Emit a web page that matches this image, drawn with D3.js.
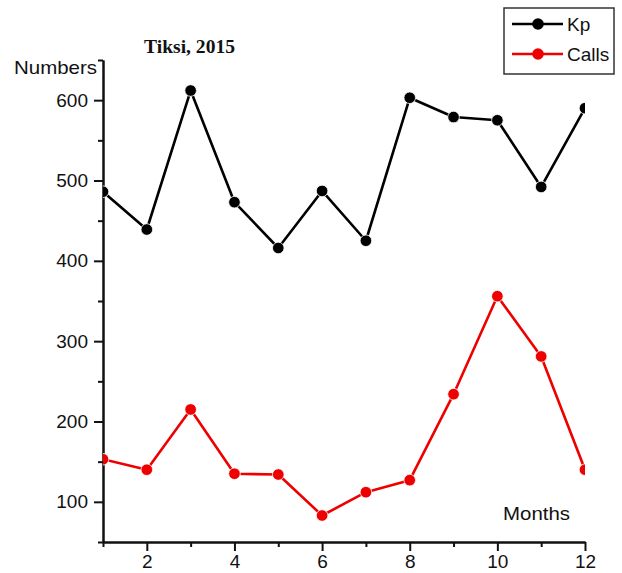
<!DOCTYPE html>
<html>
<head>
<meta charset="utf-8">
<script src="https://cdn.jsdelivr.net/npm/d3@7"></script>
<style>
  html, body { margin: 0; padding: 0; background: #fff; }
  svg { display: block; }
  text { font-family: "Liberation Sans", Arial, sans-serif; fill: #111; }
</style>
</head>
<body>
<svg id="chart" width="622" height="573"></svg>
<script>
const months = [1, 2, 3, 4, 5, 6, 7, 8, 9, 10, 11, 12];
const kpValues = [486, 439, 612, 473, 416, 487, 425, 603, 579, 575, 492, 590];
const callsValues = [153, 140, 215, 135, 134, 83, 112, 127, 234, 356, 281, 140];
const seriesNames = ["Kp", "Calls"];
const seriesColors = ["#000000", "#ee0000"];
const yMajorTicks = [100, 200, 300, 400, 500, 600];
const yMinorTicks = [50, 150, 250, 350, 450, 550, 650];
const xMajorTicks = [2, 4, 6, 8, 10, 12];
const xMinorTicks = [1, 3, 5, 7, 9, 11];
const titleText = "Tiksi, 2015";
const yTitle = "Numbers";
const xTitle = "Months";

(function () {
const svg = d3.select("#chart");
const mLeft = 103, mRight = 585, mTop = 60, mBottom = 542;

const x = d3.scaleLinear().domain([1, 12]).range([mLeft, mRight]);
const y = d3.scaleLinear().domain([50, 650]).range([mBottom, mTop]);

svg.append("defs").append("clipPath").attr("id", "plotclip")
  .append("rect").attr("x", mLeft).attr("y", mTop - 10)
  .attr("width", mRight - mLeft).attr("height", mBottom - mTop + 10);

const yAxisMajor = d3.axisLeft(y).tickValues(yMajorTicks).tickSize(9).tickPadding(6).tickSizeOuter(0);
const yAxisMinor = d3.axisLeft(y).tickValues(yMinorTicks).tickSize(5).tickFormat("").tickSizeOuter(0);
const xAxisMajor = d3.axisBottom(x).tickValues(xMajorTicks).tickSize(9).tickPadding(4).tickSizeOuter(0);
const xAxisMinor = d3.axisBottom(x).tickValues(xMinorTicks).tickSize(5).tickFormat("").tickSizeOuter(0);

function styleAxis(g) {
  g.select(".domain").attr("stroke", "#111").attr("stroke-width", 2);
  g.selectAll(".tick line").attr("stroke", "#111").attr("stroke-width", 2);
  g.selectAll(".tick text").attr("font-size", 19).attr("fill", "#111")
    .attr("font-family", "'Liberation Sans', Arial, sans-serif");
}

svg.append("g").attr("transform", `translate(${mLeft},0)`).call(yAxisMinor).call(styleAxis);
svg.append("g").attr("transform", `translate(${mLeft},0)`).call(yAxisMajor).call(styleAxis);
svg.append("g").attr("transform", `translate(0,${mBottom})`).call(xAxisMinor).call(styleAxis);
svg.append("g").attr("transform", `translate(0,${mBottom})`).call(xAxisMajor).call(styleAxis);

const series = [kpValues, callsValues];
const line = d3.line().x((d, i) => x(months[i])).y(d => y(d));
const plot = svg.append("g").attr("clip-path", "url(#plotclip)");

series.forEach((vals, si) => {
  plot.append("path").datum(vals)
    .attr("fill", "none").attr("stroke", seriesColors[si])
    .attr("stroke-width", 2.6).attr("stroke-linejoin", "round")
    .attr("d", line);
  plot.selectAll(".pt" + si).data(vals).enter().append("circle")
    .attr("cx", (d, i) => x(months[i])).attr("cy", d => y(d))
    .attr("r", 5.8).attr("fill", seriesColors[si])
    .attr("stroke", "#fff").attr("stroke-width", 0.8);
});

svg.append("text").attr("x", 144).attr("y", 53)
  .style("font-family", "'Liberation Serif', 'DejaVu Serif', serif")
  .attr("font-weight", "bold").attr("font-size", 18)
  .attr("textLength", 91).attr("lengthAdjust", "spacingAndGlyphs")
  .text(titleText);

svg.append("text").attr("x", 14).attr("y", 74).attr("font-size", 19)
  .attr("textLength", 83).attr("lengthAdjust", "spacingAndGlyphs")
  .text(yTitle);

svg.append("text").attr("x", 503).attr("y", 520).attr("font-size", 19)
  .attr("textLength", 67).attr("lengthAdjust", "spacingAndGlyphs")
  .text(xTitle);

const lg = svg.append("g");
lg.append("rect").attr("x", 504).attr("y", 8).attr("width", 110).attr("height", 66)
  .attr("fill", "#fff").attr("stroke", "#333").attr("stroke-width", 1.5);
const legendRows = [24, 54];
seriesNames.forEach((name, i) => {
  const ry = legendRows[i];
  lg.append("line").attr("x1", 512).attr("x2", 563).attr("y1", ry).attr("y2", ry)
    .attr("stroke", seriesColors[i]).attr("stroke-width", 2.6);
  lg.append("circle").attr("cx", 538).attr("cy", ry).attr("r", 5.8)
    .attr("fill", seriesColors[i]);
  lg.append("text").attr("x", 567).attr("y", ry).attr("dy", "0.36em")
    .attr("font-size", 19).text(name);
});
})();
</script>
</body>
</html>
